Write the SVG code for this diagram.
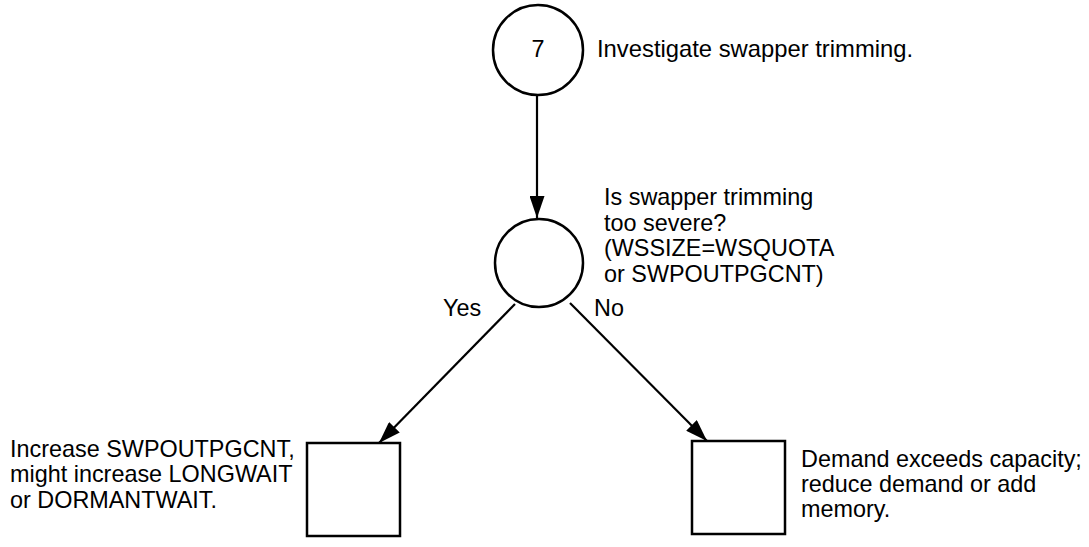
<svg xmlns="http://www.w3.org/2000/svg" width="1089" height="547" viewBox="0 0 1089 547">
<style>
.shape{fill:#fff;stroke:#000;stroke-width:2.5}
.edge{fill:none;stroke:#000;stroke-width:2.2}
text{font-family:"Liberation Sans",Arial,sans-serif;font-size:23.4px;fill:#000}
.title{font-size:23.8px}
</style>
<defs>
<marker id="arr" viewBox="0 0 22 15" refX="22" refY="7.5" markerWidth="22" markerHeight="15" markerUnits="userSpaceOnUse" orient="auto">
<path d="M0,0 L22,7.5 L0,15 Z" fill="#000"/>
</marker>
</defs>
<g id="connectors">
<line class="edge" x1="537" y1="95" x2="537" y2="218" marker-end="url(#arr)"/>
<line class="edge" x1="515" y1="304" x2="379" y2="443" marker-end="url(#arr)"/>
<line class="edge" x1="570" y1="303" x2="707" y2="441" marker-end="url(#arr)"/>
<text x="443" y="316">Yes</text>
<text x="594" y="316">No</text>
</g>
<g id="n7">
<circle class="shape" cx="538" cy="50" r="45"/>
<text x="538" y="57" text-anchor="middle">7</text>
<text class="title" x="597" y="57">Investigate swapper trimming.</text>
</g>
<g id="decision">
<circle class="shape" cx="539" cy="263" r="44"/>
<text x="604" y="205">Is swapper trimming</text>
<text x="604" y="231">too severe?</text>
<text x="604" y="256">(WSSIZE=WSQUOTA</text>
<text x="604" y="282">or SWPOUTPGCNT)</text>
</g>
<g id="yesBox">
<rect class="shape" x="307" y="443" width="93" height="93"/>
<text x="10" y="457">Increase SWPOUTPGCNT,</text>
<text x="10" y="482">might increase LONGWAIT</text>
<text x="10" y="508">or DORMANTWAIT.</text>
</g>
<g id="noBox">
<rect class="shape" x="692" y="441" width="93" height="93"/>
<text x="801" y="467">Demand exceeds capacity;</text>
<text x="801" y="492">reduce demand or add</text>
<text x="801" y="517">memory.</text>
</g>
</svg>
